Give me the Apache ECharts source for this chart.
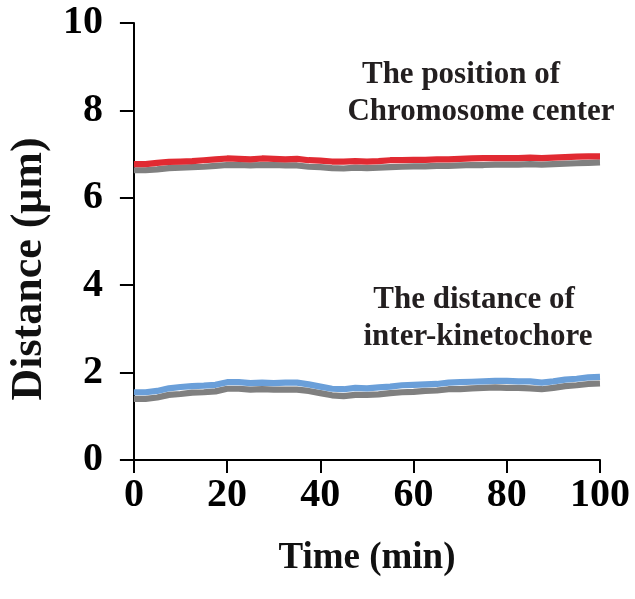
<!DOCTYPE html>
<html><head><meta charset="utf-8">
<script src="https://cdn.jsdelivr.net/npm/echarts@6/dist/echarts.min.js"></script>
<style>html,body{margin:0;padding:0;background:#fff}#c{width:635px;height:599px}</style>
</head><body><div id="c"></div>
<script>
const times = [0,2.5,5,7.5,10,12.5,15,17.5,20,22.5,25,27.5,30,32.5,35,37.5,40,42.5,45,47.5,50,52.5,55,57.5,60,62.5,65,67.5,70,72.5,75,77.5,80,82.5,85,87.5,90,92.5,95,97.5,100];
const chromRed = [6.77,6.77,6.80,6.82,6.83,6.84,6.86,6.88,6.90,6.89,6.88,6.90,6.89,6.88,6.89,6.86,6.85,6.83,6.83,6.84,6.83,6.84,6.86,6.86,6.87,6.87,6.88,6.88,6.89,6.90,6.91,6.91,6.91,6.91,6.92,6.91,6.92,6.93,6.94,6.95,6.95];
const chromGray = [6.63,6.63,6.65,6.68,6.69,6.70,6.71,6.73,6.75,6.75,6.74,6.75,6.75,6.74,6.74,6.71,6.70,6.68,6.67,6.69,6.68,6.69,6.70,6.71,6.72,6.72,6.73,6.73,6.74,6.75,6.75,6.76,6.76,6.76,6.77,6.76,6.77,6.78,6.79,6.80,6.81];
const kinBlue = [1.55,1.55,1.58,1.64,1.67,1.69,1.70,1.72,1.78,1.78,1.76,1.77,1.76,1.77,1.77,1.73,1.68,1.63,1.62,1.65,1.64,1.66,1.68,1.71,1.72,1.73,1.74,1.77,1.78,1.79,1.80,1.81,1.81,1.80,1.80,1.77,1.80,1.84,1.86,1.89,1.90];
const kinGray = [1.40,1.40,1.43,1.49,1.51,1.54,1.55,1.57,1.63,1.63,1.61,1.62,1.61,1.61,1.61,1.58,1.53,1.48,1.46,1.49,1.49,1.50,1.53,1.55,1.56,1.58,1.59,1.62,1.62,1.64,1.65,1.66,1.65,1.65,1.64,1.62,1.65,1.69,1.71,1.74,1.75];
const xTicks = [0,20,40,60,80,100];
const yTicks = [0,2,4,6,8,10];

const pair = (ys) => times.map((t,i)=>[t, ys[i]]);
const font = '"Liberation Serif", "Times New Roman", serif';
const chart = echarts.init(document.getElementById('c'), null, {renderer:'canvas'});
const lineS = (name, data, color) => ({name, type:'line', data: pair(data), showSymbol:false, symbol:'none',
  lineStyle:{color, width:6.2}, itemStyle:{color}, animation:false, z:2});
const annot = (text, x, y) => ({type:'text', x, y, style:{text, font:'bold 31px "Liberation Serif"', fill:'#231F20', textAlign:'center', textVerticalAlign:'middle'}});
chart.setOption({
  animation:false,
  grid:{left:133, right:35, top:23, bottom:139, containLabel:false},
  xAxis:{type:'value', min:xTicks[0], max:xTicks[xTicks.length-1], interval:20,
    name:'Time (min)', nameLocation:'middle', nameGap:80,
    nameTextStyle:{fontFamily:font, fontWeight:'bold', fontSize:37, color:'#111'},
    axisLine:{show:true, lineStyle:{color:'#000', width:2}},
    axisTick:{show:true, length:13, lineStyle:{color:'#000', width:2}},
    axisLabel:{fontFamily:font, fontWeight:'bold', fontSize:40, color:'#000', margin:16},
    splitLine:{show:false}},
  yAxis:{type:'value', min:yTicks[0], max:yTicks[yTicks.length-1], interval:2,
    name:'Distance (\u03bcm)', nameLocation:'middle', nameGap:74,
    nameTextStyle:{fontFamily:font, fontWeight:'bold', fontSize:44, color:'#111', padding:[0,55,0,0]},
    axisLine:{show:true, lineStyle:{color:'#000', width:2}},
    axisTick:{show:true, length:14, lineStyle:{color:'#000', width:2}},
    axisLabel:{fontFamily:font, fontWeight:'bold', fontSize:40, color:'#000', margin:31},
    splitLine:{show:false}},
  series:[
    lineS('chromGray', chromGray, '#808080'),
    lineS('chromRed', chromRed, '#E12A32'),
    lineS('kinGray', kinGray, '#808080'),
    lineS('kinBlue', kinBlue, '#6A9FD9')
  ],
  graphic:[
    annot('The position of', 461, 75),
    annot('Chromosome center', 481, 112),
    annot('The distance of', 474, 300),
    annot('inter-kinetochore', 478, 337)
  ]
});
</script></body></html>
